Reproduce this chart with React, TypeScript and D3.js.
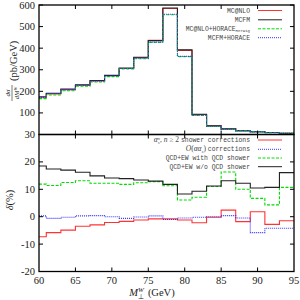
import React from "react";
import * as d3 from "d3";

// bin edges (GeV)
const binEdges = [60, 61, 63, 65, 67, 69, 71, 73, 75, 77, 79, 81, 83, 85, 87, 89, 91, 93, 95];

// top panel: dsigma/dM (pb/GeV)
const mcatnlo = [170, 188, 208, 228, 248, 272, 306, 356, 436, 584, 390, 93, 40, 26, 18, 13, 9, 6];
const mcfm = [175, 191, 211, 230, 250, 274, 308, 358, 435, 586, 392, 94, 40, 26, 18, 13, 9, 6];
const mcatnloHorace = [166, 183, 203, 224, 243, 268, 304, 351, 427, 555, 361, 88, 37, 24, 17, 12, 8, 6];
const mcfmHorace = [172, 190, 208, 228, 247, 271, 306, 354, 428, 557, 362, 89, 38, 25, 17, 12, 8, 6];

// bottom panel: delta (%)
const showerCorr = [-7.3, -5.8, -4.9, -3.5, -3.0, -2.1, -1.7, -1.2, -0.8, -0.8, -1.2, -2.2, -0.2, 2.4, -1.8, 1.8, -2.8, -1.5];
const mixedCorr = [0.3, -0.6, -0.2, 0.3, 0.4, 0.0, -0.6, -0.1, 0.3, -1.0, -0.5, -0.2, 0.0, 0.4, -0.5, -5.8, -4.2, -4.2];
const withShower = [11.9, 11.4, 12.5, 13.1, 12.2, 12.2, 11.8, 12.4, 12.8, 11.3, 6.1, 7.1, 11.0, 16.3, 10.0, 6.7, 4.3, 10.7];
const woShower = [18.5, 17.4, 17.0, 16.2, 14.9, 14.1, 13.9, 13.4, 13.0, 11.8, 8.3, 9.3, 11.2, 13.1, 12.2, 10.5, 10.7, 16.1];

const xTicks = [60, 65, 70, 75, 80, 85, 90, 95];
const yTopTicks = [100, 200, 300, 400, 500, 600];
const yBotTicks = [-20, -10, 0, 10, 20, 30];

const RED = "#ff3333";
const BLACK = "#222222";
const GREEN = "#00dd00";
const BLUE = "#3333ff";

const serif = "'Liberation Serif', serif";
const mono = "'Liberation Mono', monospace";

const x = d3.scaleLinear().domain([60, 95]).range([39, 294]);
const yTop = d3.scaleLinear().domain([0, 600]).range([134.5, 5]);
const yBot = d3.scaleLinear().domain([-20, 30]).range([271.5, 134.5]);

const stepPath = (vals: number[], y: d3.ScaleLinear<number, number>) => {
  const pts: [number, number][] = vals.map((v, i) => [binEdges[i], v]);
  pts.push([binEdges[binEdges.length - 1], vals[vals.length - 1]]);
  return d3
    .line<[number, number]>()
    .x((d) => x(d[0]))
    .y((d) => y(d[1]))
    .curve(d3.curveStepAfter)(pts) as string;
};

const topSeries = [
  { vals: mcatnlo, color: RED, dash: "" },
  { vals: mcfm, color: BLACK, dash: "" },
  { vals: mcatnloHorace, color: GREEN, dash: "3,1.5" },
  { vals: mcfmHorace, color: BLUE, dash: "1,1" },
];

const botSeries = [
  { vals: showerCorr, color: RED, dash: "" },
  { vals: mixedCorr, color: BLUE, dash: "1,1" },
  { vals: withShower, color: GREEN, dash: "3,1.5" },
  { vals: woShower, color: BLACK, dash: "" },
];

const Frame = ({ y, ticks }: { y: d3.ScaleLinear<number, number>; ticks: number[] }) => {
  const [y0, y1] = y.range();
  const x0 = x(60);
  const x1 = x(95);
  return (
    <g>
      {xTicks.slice(1, -1).map((t) => (
        <g key={"x" + t}>
          <line x1={x(t)} x2={x(t)} y1={y0} y2={y0 - 4} stroke="#000" />
          <line x1={x(t)} x2={x(t)} y1={y1} y2={y1 + 4} stroke="#000" />
        </g>
      ))}
      {ticks.map((t) => (
        <g key={"y" + t}>
          <line x1={x0} x2={x0 + 4} y1={y(t)} y2={y(t)} stroke="#000" />
          <line x1={x1} x2={x1 - 4} y1={y(t)} y2={y(t)} stroke="#000" />
        </g>
      ))}
      <rect x={x0} y={y1} width={x1 - x0} height={y0 - y1} fill="none" stroke="#000" strokeWidth={1.3} />
    </g>
  );
};

const LegendRow = ({ y, color, dash, children }: any) => (
  <g>
    <text x={250} y={y + 2.1} textAnchor="end" fontFamily={mono} fontSize={6.4} fill="#444">
      {children}
    </text>
    <line x1={258} x2={282} y1={y} y2={y} stroke={color} strokeWidth={1} strokeDasharray={dash} />
  </g>
);

export default function App() {
  return (
    <svg width={300} height={300} style={{ position: "absolute", left: 0, top: 0, background: "#fff" }}>
      {/* top panel curves */}
      {topSeries.map((s, i) => (
        <path key={"t" + i} d={stepPath(s.vals, yTop)} fill="none" stroke={s.color} strokeWidth={1.1} strokeDasharray={s.dash} />
      ))}
      {/* bottom panel curves */}
      {botSeries.map((s, i) => (
        <path key={"b" + i} d={stepPath(s.vals, yBot)} fill="none" stroke={s.color} strokeWidth={1.1} strokeDasharray={s.dash} />
      ))}
      <Frame y={yTop} ticks={yTopTicks} />
      <Frame y={yBot} ticks={yBotTicks} />

      {/* tick labels */}
      <g fontFamily={serif} fontSize={10.5} fill="#222">
        {yTopTicks.map((t) => (
          <text key={"lt" + t} x={35} y={yTop(t) + 3.5} textAnchor="end">
            {t}
          </text>
        ))}
        {yBotTicks.map((t) => (
          <text key={"lb" + t} x={35} y={yBot(t) + 3.5} textAnchor="end">
            {t}
          </text>
        ))}
        {xTicks.map((t) => (
          <text key={"lx" + t} x={x(t)} y={284} textAnchor="middle">
            {t}
          </text>
        ))}
      </g>

      {/* x label */}
      <text x={152} y={296} textAnchor="middle" fontFamily={serif} fontSize={10.5} fill="#222">
        <tspan fontStyle="italic">M</tspan>
        <tspan fontSize={7} fontStyle="italic" dy={-4}>W</tspan>
        <tspan fontSize={7} dx={-6} dy={7}>⊥</tspan>
        <tspan dx={4} dy={-3}>(GeV)</tspan>
      </text>

      {/* top y label */}
      <g transform="translate(13,73) rotate(-90)" fontFamily={serif} fill="#222">
        <text x={-20} y={-3} textAnchor="middle" fontSize={7} fontStyle="italic">dσ</text>
        <line x1={-28} x2={-12} y1={-1} y2={-1} stroke="#222" strokeWidth={0.6} />
        <text x={-20} y={5.5} textAnchor="middle" fontSize={6.5} fontStyle="italic">dM<tspan fontSize={4.5} dy={-2}>W</tspan></text>
        <text x={-8} y={3.5} textAnchor="start" fontSize={10.5}>(pb/GeV)</text>
      </g>

      {/* bottom y label */}
      <text transform="translate(13,200) rotate(-90)" textAnchor="middle" fontFamily={serif} fontSize={10.5} fill="#222">
        <tspan fontStyle="italic">δ</tspan>(%)
      </text>

      {/* legends */}
      <LegendRow y={10.5} color={RED} dash="">MC@NLO</LegendRow>
      <LegendRow y={19.8} color={BLACK} dash="">MCFM</LegendRow>
      <LegendRow y={28.8} color={GREEN} dash="3,1.5">
        MC@NLO+HORACE<tspan fontSize={4} dy={1.5}>Herwig</tspan>
      </LegendRow>
      <LegendRow y={37.7} color={BLUE} dash="1,1">MCFM+HORACE</LegendRow>

      <g>
        <text x={250} y={142.2} textAnchor="end" fontFamily={serif} fontSize={7.5} fill="#444">
          <tspan fontStyle="italic">α</tspan>
          <tspan fontSize={4.8} dy={1.5} fontStyle="italic">s</tspan>
          <tspan fontSize={4.8} dy={-4} dx={-2} fontStyle="italic">n</tspan>
          <tspan dy={2.5}>, </tspan>
          <tspan fontStyle="italic">n</tspan>
          <tspan> ≥ 2 </tspan>
          <tspan fontFamily={mono} fontSize={6.4}>shower corrections</tspan>
        </text>
        <line x1={258} x2={282} y1={140} y2={140} stroke={RED} />
      </g>
      <g>
        <text x={250} y={151.4} textAnchor="end" fontFamily={serif} fontSize={7.5} fill="#444">
          <tspan fontStyle="italic">O</tspan>(<tspan fontStyle="italic">αα</tspan>
          <tspan fontSize={4.8} dy={1.5} fontStyle="italic">s</tspan>
          <tspan dy={-1.5}>) </tspan>
          <tspan fontFamily={mono} fontSize={6.4}>corrections</tspan>
        </text>
        <line x1={258} x2={282} y1={149.3} y2={149.3} stroke={BLUE} strokeDasharray="1,1" />
      </g>
      <LegendRow y={158} color={GREEN} dash="3,1.5">QCD+EW with QCD shower</LegendRow>
      <LegendRow y={166.7} color={BLACK} dash="">QCD+EW w/o QCD shower</LegendRow>
    </svg>
  );
}
